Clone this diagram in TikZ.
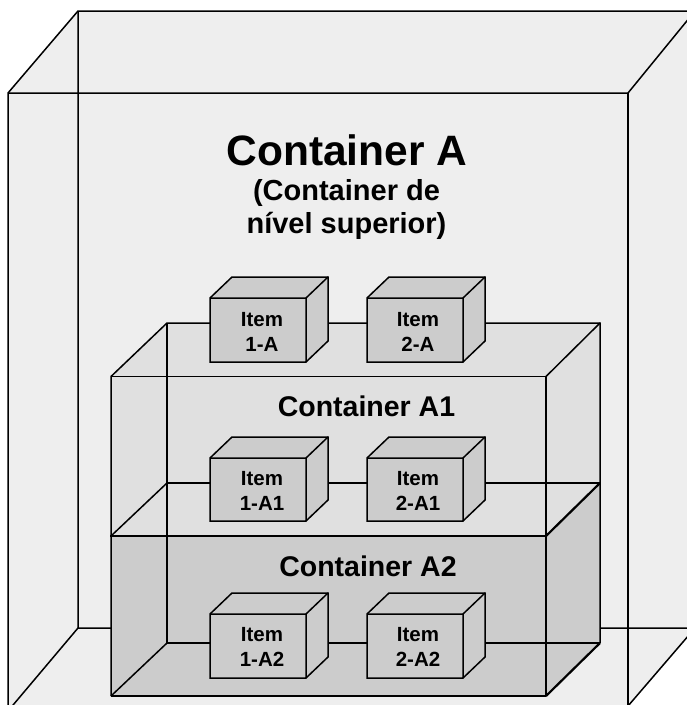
\documentclass[tikz,border=0pt]{standalone}
\usepackage{fontspec}
\setmainfont{Liberation Sans}
\tikzset{
  x=1pt,y=-1pt,
  edge/.style={draw=black,line width=1.5pt,line join=miter},
  heavy/.style={draw=black,line width=2.2pt},
  txt/.style={align=center,inner sep=0pt,text=black},
  itemtxt/.style={txt,font=\fontsize{20.5}{25}\selectfont\bfseries},
  subtxt/.style={txt,font=\fontsize{28.5}{33}\selectfont\bfseries}
}
\definecolor{wallgray}{HTML}{EEEEEE}
\definecolor{lightbox}{HTML}{E0E0E0}
\definecolor{midbox}{HTML}{CCCCCC}
% small cuboid: front left, front top, front right, front bottom
\newcommand{\smallcube}[4]{%
  \fill[midbox] (#1,#2) -- ++(22,-21) -- ++(#3-#1,0) -- ++(0,#4-#2) -- ++(-22,21) -- ++(#1-#3,0) -- cycle;
  \draw[edge] (#1,#2) -- ++(22,-21) -- ++(#3-#1,0) -- ++(0,#4-#2) -- ++(-22,21) -- ++(#1-#3,0) -- cycle;
  \draw[edge] (#1,#2) -- (#3,#2) -- (#3,#4) (#3,#2) -- ++(22,-21);
}
\begin{document}
\begin{tikzpicture}
\useasboundingbox (0,0) rectangle (687,705);
\fill[white] (0,0) rectangle (687,705);
% outer container
\begin{scope}
\clip (0,0) rectangle (687,705);
\fill[wallgray] (8,93) -- (78,11) -- (695,11) -- (695,628) -- (628,706) -- (8,711) -- cycle;
\draw[edge] (8,711) -- (8,93) -- (78,11) -- (695,11) (695,628) -- (628,706);
\draw[edge] (8,93) -- (628,93) -- (695,11);
\draw[edge] (628,93) -- (628,705);
\draw[edge] (78,11) -- (78,628) -- (695,628) (78,628) -- (8,711);
\end{scope}
% inner containers: fills
\fill[lightbox] (111,376.5) -- (167,323) -- (600,323) -- (600,483) -- (546,536) -- (111,536) -- cycle;
\fill[midbox] (111,536) -- (546,536) -- (600,483) -- (600,643) -- (546,696) -- (111,696) -- cycle;
% inner containers: edges
\draw[edge] (111,696) -- (111,376.5) -- (167,323) -- (600,323) -- (600,643);
\draw[edge] (111,376.5) -- (546,376.5) -- (546,696);
\draw[edge] (546,376.5) -- (600,323);
\draw[edge] (167,323) -- (167,643) -- (600,643);
\draw[edge] (167,483) -- (600,483);
\draw[edge] (111,536) -- (167,483);
\draw[edge] (111,696) -- (167,643);
\draw[edge] (111,696) -- (546,696);
\draw[heavy] (546,536) -- (600,483);
\draw[heavy] (546,696) -- (600,643);
\draw[heavy] (110,536) -- (547,536);
% items
\smallcube{210}{298}{306}{362}
\smallcube{367}{298}{463}{362}
\smallcube{210}{458}{306}{521}
\smallcube{367}{458}{463}{521}
\smallcube{210}{614}{306}{678}
\smallcube{367}{614}{463}{678}
% texts
\node[txt,font=\fontsize{42.5}{48}\selectfont\bfseries] (ta) at (347,150) {Container A};
\node[txt,font=\fontsize{29}{33}\selectfont\bfseries] (tb) at (346.5,209) {(Container de\\nível superior)};
\node[subtxt] (ta1) at (366.5,406.5) {Container A1};
\node[subtxt] (ta2) at (368,566.5) {Container A2};
\node[itemtxt] (i1) at (262,332) {Item\\1-A};
\node[itemtxt] (i2) at (418,332) {Item\\2-A};
\node[itemtxt] (i3) at (262,490.5) {Item\\1-A1};
\node[itemtxt] (i4) at (418,490.5) {Item\\2-A1};
\node[itemtxt] (i5) at (262,647) {Item\\1-A2};
\node[itemtxt] (i6) at (418,647) {Item\\2-A2};
\end{tikzpicture}
\end{document}
